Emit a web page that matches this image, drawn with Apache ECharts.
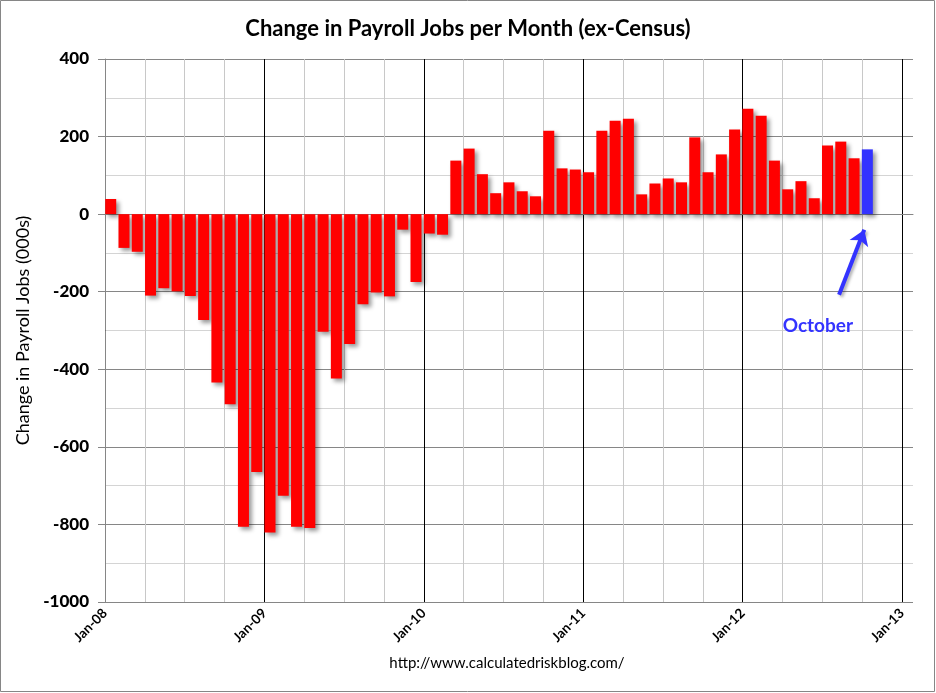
<!DOCTYPE html>
<html lang="en">
<head>
    <meta charset="UTF-8">
    <title>Change in Payroll Jobs per Month</title>
    <script src="https://cdn.jsdelivr.net/npm/echarts@6.0.0/dist/echarts.min.js"></script>
    <style>
        html, body { margin: 0; padding: 0; background: #fff; }
        #chart { width: 936px; height: 693px; }
    </style>
</head>
<body>
<div id="chart"></div>
<script>
// months Jan-08 .. Oct-12
const months = [
    'Jan-08', 'Feb-08', 'Mar-08', 'Apr-08', 'May-08', 'Jun-08', 'Jul-08', 'Aug-08', 'Sep-08', 'Oct-08', 'Nov-08', 'Dec-08',
    'Jan-09', 'Feb-09', 'Mar-09', 'Apr-09', 'May-09', 'Jun-09', 'Jul-09', 'Aug-09', 'Sep-09', 'Oct-09', 'Nov-09', 'Dec-09',
    'Jan-10', 'Feb-10', 'Mar-10', 'Apr-10', 'May-10', 'Jun-10', 'Jul-10', 'Aug-10', 'Sep-10', 'Oct-10', 'Nov-10', 'Dec-10',
    'Jan-11', 'Feb-11', 'Mar-11', 'Apr-11', 'May-11', 'Jun-11', 'Jul-11', 'Aug-11', 'Sep-11', 'Oct-11', 'Nov-11', 'Dec-11',
    'Jan-12', 'Feb-12', 'Mar-12', 'Apr-12', 'May-12', 'Jun-12', 'Jul-12', 'Aug-12', 'Sep-12', 'Oct-12'
]
// change in payroll jobs, thousands
const payroll = [
    39, -87, -97, -210, -191, -199, -211, -273, -434, -490, -806, -665,
    -821, -726, -806, -809, -303, -424, -335, -232, -202, -212, -40, -175,
    -50, -53, 138, 169, 103, 54, 82, 59, 46, 215, 118, 115,
    108, 215, 241, 246, 51, 79, 92, 82, 198, 108, 154, 218,
    272, 254, 138, 64, 85, 41, 177, 187, 144, 167
]
const yearLabels = ['Jan-08', 'Jan-09', 'Jan-10', 'Jan-11', 'Jan-12', 'Jan-13']
const yTicks = [-1000, -800, -600, -400, -200, 0, 200, 400]

const latest = months.indexOf('Oct-12')
const red = '#ff0000'
const blue = '#3333ff'
const font = 'Lato, "Open Sans", sans-serif'

const chart = echarts.init(document.getElementById('chart'))

const barData = payroll.map((v, i) => ({
    value: [i + 0.43, v],
    itemStyle: { color: i === latest ? blue : red }
}))

const option = {
    animation: false,
    backgroundColor: '#fff',
    title: {
        text: 'Change in Payroll Jobs per Month (ex-Census)',
        left: 'center',
        top: 13,
        textStyle: { fontFamily: font, fontSize: 22, fontWeight: 'bold', color: '#000' }
    },
    grid: [
        { left: 105, top: 59, width: 808, height: 543 },
        { left: 105, top: 59, width: 797, height: 543 }
    ],
    xAxis: [
        {
            gridIndex: 0, type: 'value', min: 0, max: 60.87,
            axisLine: { lineStyle: { color: '#868686' } },
            axisTick: { show: false }, axisLabel: { show: false }, splitLine: { show: false }
        },
        {
            gridIndex: 1, type: 'value', min: 0, max: 60, interval: 3,
            axisLine: { show: false }, axisTick: { show: false },
            axisLabel: {
                rotate: 45, margin: 9,
                fontFamily: font, fontSize: 13.5, fontWeight: 'bold', color: '#000',
                formatter: v => v % 12 === 0 ? yearLabels[v / 12] : ''
            },
            splitLine: { lineStyle: { color: ['#000', '#c8c8c8', '#c8c8c8', '#c8c8c8'], width: 1 } }
        }
    ],
    yAxis: [
        {
            gridIndex: 0, type: 'value', min: yTicks[0], max: yTicks[yTicks.length - 1], interval: 200,
            name: 'Change in Payroll Jobs (000s)',
            nameLocation: 'middle', nameGap: 73,
            nameTextStyle: { fontFamily: font, fontSize: 18, color: '#000' },
            axisLine: { show: true, lineStyle: { color: '#868686' } },
            axisTick: { show: true, length: 7, lineStyle: { color: '#868686' } },
            axisLabel: {
                margin: 16, fontFamily: font, fontSize: 17, fontWeight: 900, color: '#000',
                formatter: v => String(v)
            },
            splitLine: { lineStyle: { color: '#868686' } },
            minorTick: { show: false, splitNumber: 2 },
            minorSplitLine: { show: true, lineStyle: { color: '#d4d4d4' } }
        },
        { gridIndex: 1, type: 'value', min: 0, max: 1, show: false }
    ],
    series: [
        {
            type: 'bar',
            xAxisIndex: 0, yAxisIndex: 0,
            barWidth: 11,
            data: barData,
            itemStyle: {
                shadowColor: 'rgba(0,0,0,0.4)', shadowBlur: 4, shadowOffsetX: 3, shadowOffsetY: 3
            },
            markLine: {
                silent: true,
                symbol: ['none', 'arrow'],
                symbolSize: [15, 15],
                label: { show: false },
                lineStyle: { color: blue, width: 4, type: 'solid',
                    shadowColor: 'rgba(0,0,0,0.3)', shadowBlur: 3, shadowOffsetX: 2, shadowOffsetY: 2 },
                data: [[{ coord: [55.3, -208] }, { coord: [57.2, -40] }]]
            },
            markPoint: {
                silent: true,
                symbol: 'circle', symbolSize: 0,
                label: {
                    show: true, formatter: 'October',
                    fontFamily: font, fontSize: 19, fontWeight: 'bold', color: blue
                },
                data: [{ coord: [53.7, -288] }]
            }
        }
    ],
    graphic: [
        {
            type: 'text', x: 507, y: 656,
            style: {
                text: 'http://www.calculatedriskblog.com/', align: 'center',
                fontFamily: font, fontSize: 15, fill: '#000'
            }
        },
        {
            type: 'rect', silent: true,
            shape: { x: 0.5, y: 0.5, width: 934, height: 691 },
            style: { fill: 'none', stroke: '#868686', lineWidth: 1 }
        }
    ]
}
chart.setOption(option)
</script>
</body>
</html>
